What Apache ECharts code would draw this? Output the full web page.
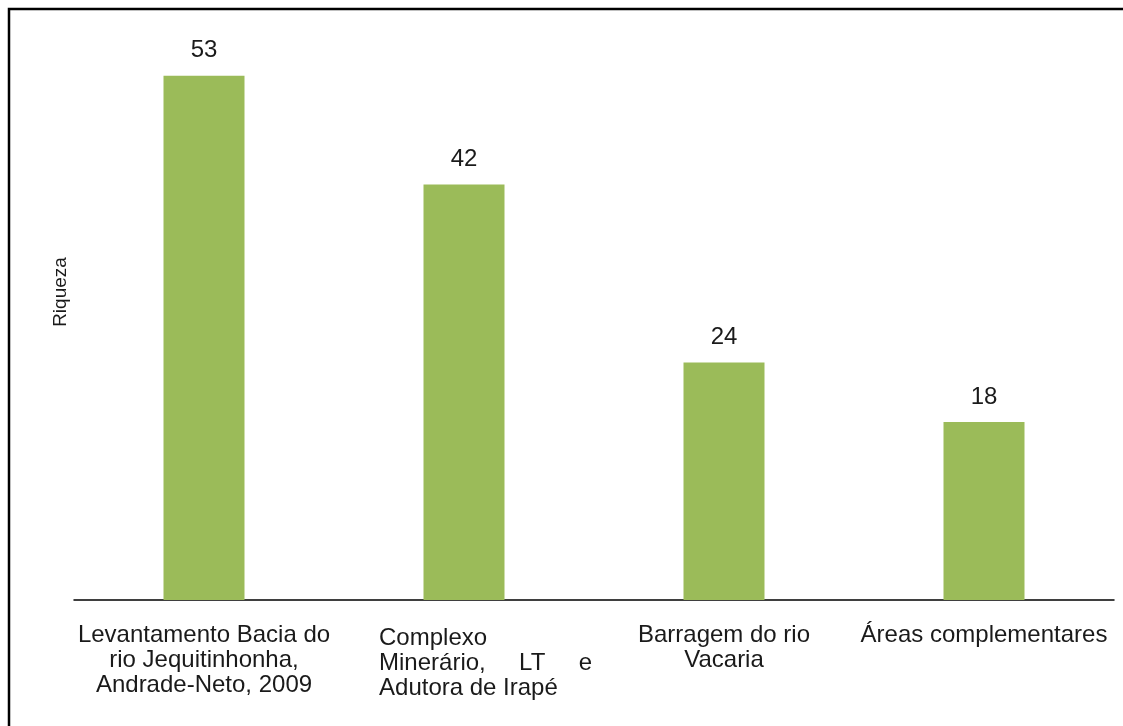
<!DOCTYPE html>
<html>
<head>
<meta charset="utf-8">
<script src="https://cdn.jsdelivr.net/npm/echarts@6/dist/echarts.min.js"></script>
<style>
html,body{margin:0;padding:0;background:#fff;}
#chart{width:1123px;height:726px;}
</style>
</head>
<body>
<div id="chart"></div>
<script>
const categories = [
  'Levantamento Bacia do\nrio Jequitinhonha,\nAndrade-Neto, 2009',
  'Complexo\nMinerário,     LT     e\nAdutora de Irapé',
  'Barragem do rio\nVacaria',
  'Áreas complementares'
];
const values = [53, 42, 24, 18];
const yAxisName = 'Riqueza';

const chart = echarts.init(document.getElementById('chart'));
const FONT = '"Liberation Sans", Arial, sans-serif';

const catData = categories.map((c, i) => {
  if (i === 1) {
    return {
      value: c,
      textStyle: { padding: [3, 0, 0, 43] }
    };
  }
  return { value: c };
});

chart.setOption({
  backgroundColor: '#ffffff',
  animation: false,
  grid: { left: 74, right: 9, top: 56, bottom: 126 },
  xAxis: {
    type: 'category',
    data: catData,
    axisLine: { show: true, lineStyle: { color: '#000', width: 1.5 } },
    axisTick: { show: false },
    axisLabel: {
      interval: 0,
      margin: 23,
      color: '#1a1a1a',
      fontFamily: FONT,
      fontSize: 24,
      lineHeight: 25,
      formatter: function (v, idx) {
        if (idx === 1) {
          return v.split('\n').map(s => '{l|' + s + '}').join('\n');
        }
        return v;
      },
      rich: {
        l: { align: 'left', fontFamily: FONT, fontSize: 24, lineHeight: 25, color: '#1a1a1a' }
      }
    }
  },
  yAxis: {
    type: 'value',
    min: 0,
    max: 55,
    name: yAxisName,
    nameLocation: 'middle',
    nameRotate: 90,
    nameGap: 4,
    nameTextStyle: { color: '#1a1a1a', fontFamily: FONT, fontSize: 19, padding: [0, 0, 0, 72] },
    axisLine: { show: false },
    axisTick: { show: false },
    axisLabel: { show: false },
    splitLine: { show: false }
  },
  series: [{
    type: 'bar',
    data: values,
    barWidth: 81,
    itemStyle: { color: '#9BBB59' },
    label: {
      show: true,
      position: 'top',
      distance: 13,
      color: '#1a1a1a',
      fontFamily: FONT,
      fontSize: 24
    }
  }],
  graphic: [{
    type: 'polyline',
    shape: { points: [[9, 726], [9, 9], [1123, 9]] },
    style: { stroke: '#000', lineWidth: 2.5, fill: null }
  }]
});
</script>
</body>
</html>
